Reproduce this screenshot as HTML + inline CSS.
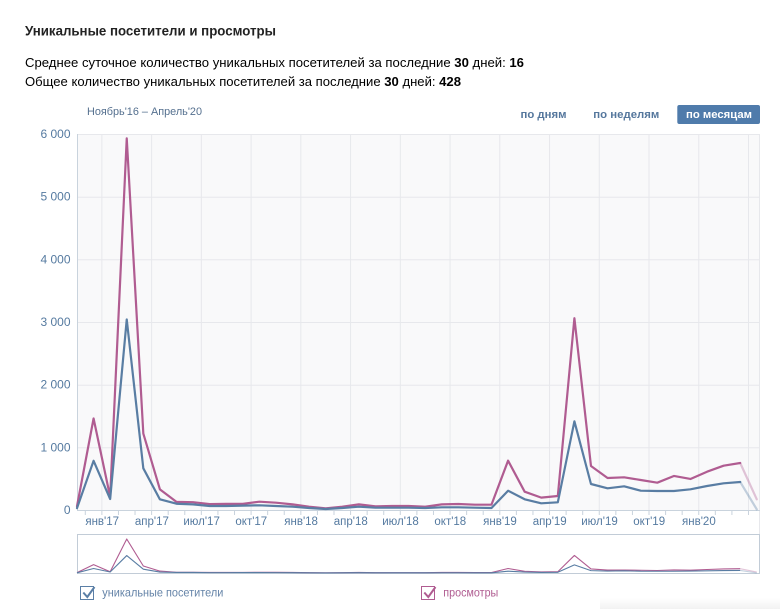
<!DOCTYPE html>
<html><head><meta charset="utf-8"><style>
html,body{margin:0;padding:0;background:#fff;width:780px;height:609px;overflow:hidden}
svg{display:block}
text{font-family:"Liberation Sans","Noto Sans CJK SC",sans-serif}
</style></head><body>
<svg width="780" height="609" viewBox="0 0 780 609" xmlns="http://www.w3.org/2000/svg">
<defs><linearGradient id="sh" x1="0" y1="0" x2="0" y2="1"><stop offset="0" stop-color="#fff"/><stop offset="1" stop-color="#f2f2f2"/></linearGradient></defs>
<rect x="600" y="598" width="180" height="11" fill="url(#sh)"/>
<text x="25" y="35.7" font-size="14" font-weight="bold" fill="#222" textLength="251" lengthAdjust="spacingAndGlyphs">Уникальные посетители и просмотры</text>
<text x="25" y="66.8" font-size="13" fill="#000" textLength="499" lengthAdjust="spacingAndGlyphs">Среднее суточное количество уникальных посетителей за последние <tspan font-weight="bold">30</tspan> дней: <tspan font-weight="bold">16</tspan></text>
<text x="25" y="86" font-size="13" fill="#000" textLength="436" lengthAdjust="spacingAndGlyphs">Общее количество уникальных посетителей за последние <tspan font-weight="bold">30</tspan> дней: <tspan font-weight="bold">428</tspan></text>
<text x="87" y="115" font-size="11" fill="#55708f" textLength="115" lengthAdjust="spacingAndGlyphs">Ноябрь'16 – Апрель'20</text>
<text x="520.5" y="118" font-size="11" font-weight="bold" fill="#55779d" textLength="46" lengthAdjust="spacingAndGlyphs">по дням</text>
<text x="593.3" y="118" font-size="11" font-weight="bold" fill="#55779d" textLength="66" lengthAdjust="spacingAndGlyphs">по неделям</text>
<rect x="677.3" y="105" width="82.7" height="19" rx="2" fill="#4f7bab"/>
<text x="686" y="118" font-size="11" font-weight="bold" fill="#fff" textLength="66" lengthAdjust="spacingAndGlyphs">по месяцам</text>
<rect x="77" y="134" width="683" height="376" fill="#f9f9fa"/>
<g stroke="#e7e8ec" stroke-width="1" fill="none">
<path d="M77 134.5H760M77 197.2H760M77 259.8H760M77 322.5H760M77 385.2H760M77 447.8H760"/>
<path d="M101.87 134V510M151.61 134V510M201.35 134V510M251.09 134V510M300.83 134V510M350.57 134V510M400.31 134V510M450.05 134V510M499.79 134V510M549.53 134V510M599.27 134V510M649.01 134V510M698.75 134V510M748.49 134V510"/>
<path d="M759.5 134V534"/>
</g>
<g stroke="#c9d3dd" stroke-width="1" fill="none">
<path d="M77.5 134V510"/>
<path d="M77 510.5H760"/>
<path d="M85.29 510V515M101.87 510V515M118.45 510V515M135.03 510V515M151.61 510V515M168.19 510V515M184.77 510V515M201.35 510V515M217.93 510V515M234.51 510V515M251.09 510V515M267.67 510V515M284.25 510V515M300.83 510V515M317.41 510V515M333.99 510V515M350.57 510V515M367.15 510V515M383.73 510V515M400.31 510V515M416.89 510V515M433.47 510V515M450.05 510V515M466.63 510V515M483.21 510V515M499.79 510V515M516.37 510V515M532.95 510V515M549.53 510V515M566.11 510V515M582.69 510V515M599.27 510V515M615.85 510V515M632.43 510V515M649.01 510V515M665.59 510V515M682.17 510V515M698.75 510V515M715.33 510V515M731.91 510V515M748.49 510V515"/>
</g>
<g font-size="12" fill="#557aa0" text-anchor="end">
<text x="70.5" y="138">6 000</text>
<text x="70.5" y="200.7">5 000</text>
<text x="70.5" y="263.3">4 000</text>
<text x="70.5" y="326">3 000</text>
<text x="70.5" y="388.7">2 000</text>
<text x="70.5" y="451.3">1 000</text>
<text x="70.5" y="514">0</text>
</g>
<g font-size="11.5" fill="#557aa0" text-anchor="middle">
<text x="102.2" y="525">янв'17</text>
<text x="151.9" y="525">апр'17</text>
<text x="201.6" y="525">июл'17</text>
<text x="251.3" y="525">окт'17</text>
<text x="301.1" y="525">янв'18</text>
<text x="350.8" y="525">апр'18</text>
<text x="400.5" y="525">июл'18</text>
<text x="450.3" y="525">окт'18</text>
<text x="500" y="525">янв'19</text>
<text x="549.7" y="525">апр'19</text>
<text x="599.5" y="525">июл'19</text>
<text x="649.2" y="525">окт'19</text>
<text x="698.9" y="525">янв'20</text>
</g>
<g fill="none" stroke-width="2.2" stroke-linejoin="round" stroke-linecap="round">
<polyline stroke="#b05c91" points="77,506.24 93.58,418.51 110.16,496.84 126.74,138.38 143.32,433.55 159.9,489.32 176.48,501.85 193.06,502.17 209.64,504.05 226.22,503.86 242.8,503.86 259.38,501.67 275.96,502.67 292.54,504.36 309.12,506.68 325.7,508.31 342.28,506.68 358.86,504.36 375.44,506.37 392.02,505.99 408.6,505.99 425.18,506.68 441.76,504.36 458.34,503.98 474.92,504.67 491.5,504.67 508.08,460.68 524.66,491.7 541.24,497.65 557.82,496.03 574.4,318.24 590.98,466.01 607.56,477.98 624.14,477.29 640.72,479.98 657.3,482.68 673.88,475.97 690.46,478.98 707.04,471.71 723.62,465.69 740.2,463"/>
<polyline stroke="#b05c91" stroke-opacity="0.35" points="740.2,463 756.78,499.35"/>
<polyline stroke="#597da3" points="77,508.12 93.58,460.81 110.16,499.03 126.74,319.5 143.32,468.33 159.9,499.35 176.48,503.73 193.06,504.36 209.64,505.99 226.22,505.99 242.8,505.61 259.38,505.3 275.96,505.99 292.54,506.68 309.12,507.99 325.7,509 342.28,507.99 358.86,506.68 375.44,507.68 392.02,507.68 408.6,507.68 425.18,507.99 441.76,507.31 458.34,507.31 474.92,507.68 491.5,507.99 508.08,490.7 524.66,499.28 541.24,503.29 557.82,502.29 574.4,421.33 590.98,484 607.56,488.32 624.14,486.31 640.72,490.7 657.3,491.01 673.88,491.01 690.46,489.32 707.04,486 723.62,483.3 740.2,481.99"/>
<polyline stroke="#597da3" stroke-opacity="0.35" points="740.2,481.99 756.78,509.37"/>
</g>
<rect x="77.5" y="534.5" width="682" height="39" fill="#fff" stroke="#c2ccd7" stroke-width="1"/>
<g fill="none" stroke-width="1.1" stroke-linejoin="round">
<polyline stroke="#b05c91" points="77,572.66 93.58,564.63 110.16,571.8 126.74,539 143.32,566 159.9,571.11 176.48,572.25 193.06,572.28 209.64,572.46 226.22,572.44 242.8,572.44 259.38,572.24 275.96,572.33 292.54,572.48 309.12,572.7 325.7,572.85 342.28,572.7 358.86,572.48 375.44,572.67 392.02,572.63 408.6,572.63 425.18,572.7 441.76,572.48 458.34,572.45 474.92,572.51 491.5,572.51 508.08,568.49 524.66,571.33 541.24,571.87 557.82,571.72 574.4,555.45 590.98,568.97 607.56,570.07 624.14,570.01 640.72,570.25 657.3,570.5 673.88,569.89 690.46,570.16 707.04,569.5 723.62,568.95 740.2,568.7"/>
<polyline stroke="#b05c91" stroke-opacity="0.35" points="740.2,568.7 756.78,572.03"/>
<polyline stroke="#597da3" points="77,572.83 93.58,568.5 110.16,572 126.74,555.57 143.32,569.19 159.9,572.03 176.48,572.43 193.06,572.48 209.64,572.63 226.22,572.63 242.8,572.6 259.38,572.57 275.96,572.63 292.54,572.7 309.12,572.82 325.7,572.9 342.28,572.82 358.86,572.7 375.44,572.79 392.02,572.79 408.6,572.79 425.18,572.82 441.76,572.75 458.34,572.75 474.92,572.79 491.5,572.82 508.08,571.23 524.66,572.02 541.24,572.39 557.82,572.29 574.4,564.89 590.98,570.62 607.56,571.02 624.14,570.83 640.72,571.23 657.3,571.26 673.88,571.26 690.46,571.11 707.04,570.8 723.62,570.56 740.2,570.44"/>
<polyline stroke="#597da3" stroke-opacity="0.35" points="740.2,570.44 756.78,572.94"/>
</g>
<rect x="80.5" y="586.5" width="13" height="13" fill="#fff" stroke="#5b7fa6" stroke-width="1"/>
<polyline points="83.3,592.5 87.3,597 94.5,587" fill="none" stroke="#5b7fa6" stroke-width="2"/>
<text x="102.3" y="596.5" font-size="12" fill="#6584a8" textLength="121" lengthAdjust="spacingAndGlyphs">уникальные посетители</text>
<rect x="421.5" y="586.5" width="13" height="13" fill="#fff" stroke="#b05c91" stroke-width="1"/>
<polyline points="424.3,592.5 428.3,597 435.5,587" fill="none" stroke="#b05c91" stroke-width="2"/>
<text x="443.3" y="596.5" font-size="12" fill="#b05c91" textLength="55" lengthAdjust="spacingAndGlyphs">просмотры</text>
</svg>
</body></html>
